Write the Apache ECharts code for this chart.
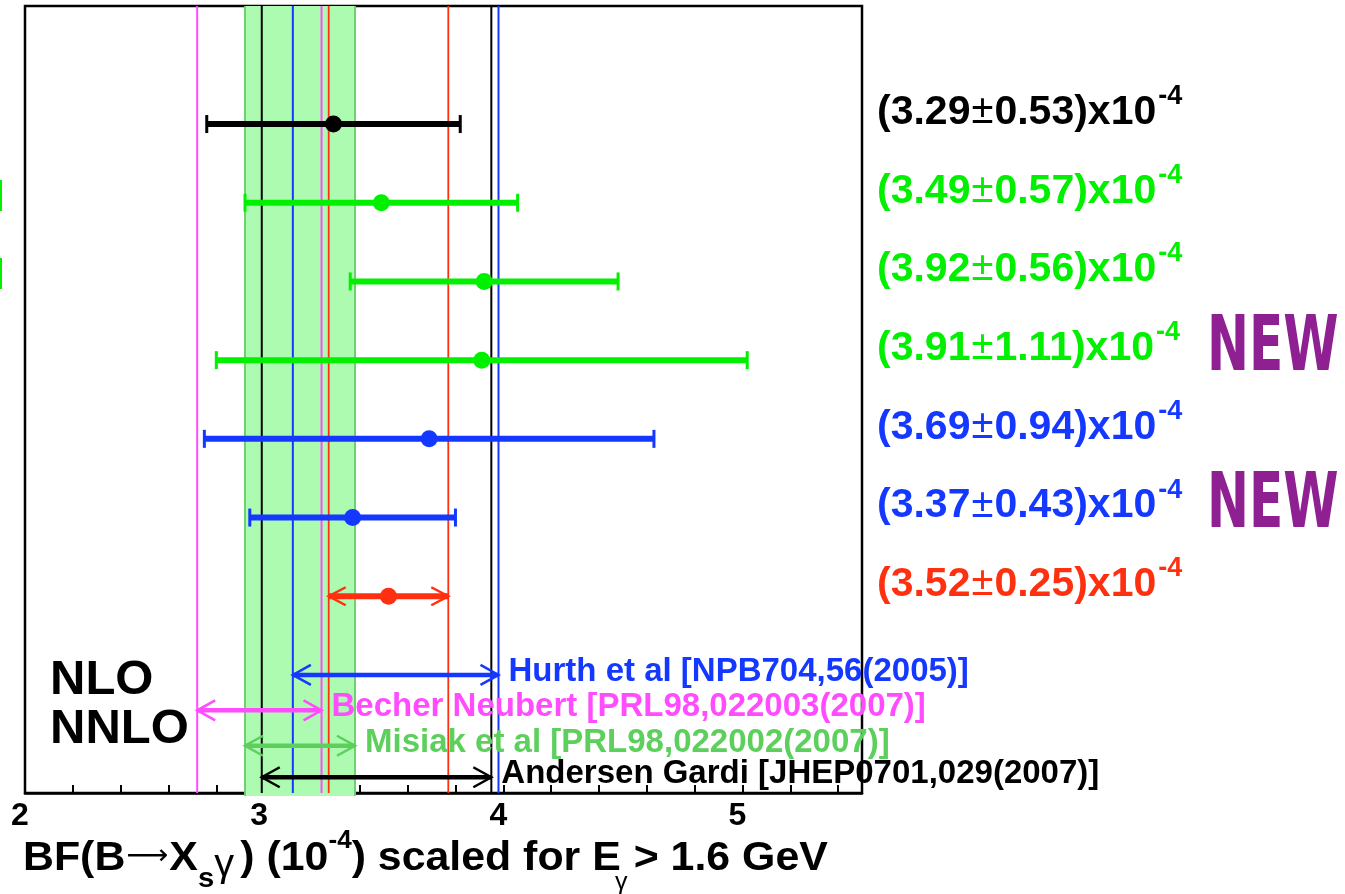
<!DOCTYPE html>
<html>
<head>
<meta charset="utf-8">
<script src="https://cdn.jsdelivr.net/npm/echarts@6/dist/echarts.min.js"></script>
<style>
  html, body { margin: 0; padding: 0; background: #ffffff; }
  #chart { width: 1345px; height: 894px; }
</style>
</head>
<body>
<div id="chart"></div>
<script>
// Measured branching fractions, in units of 1e-4, listed top to bottom.
// The last entry is the average.
const measValues = [3.29, 3.49, 3.92, 3.91, 3.69, 3.37, 3.52];
const measErrors = [0.53, 0.57, 0.56, 1.11, 0.94, 0.43, 0.25];
const measIsNew  = [false, false, false, true, false, true, false];

// Theory predictions (central value with lower / upper uncertainty)
const theoryNames = [
  'Hurth et al [NPB704,56(2005)]',
  'Becher Neubert [PRL98,022003(2007)]',
  'Misiak et al [PRL98,022002(2007)]',
  'Andersen Gardi [JHEP0701,029(2007)]'
];
const theoryCentral = [3.61, 2.98, 3.15, 3.47];
const theoryErrDown = [0.49, 0.26, 0.23, 0.48];
const theoryErrUp   = [0.37, 0.26, 0.23, 0.48];

// Axis tick labels
const xTickLabels = [2, 3, 4, 5];

// ---- styling ----
const FONT = '"Liberation Sans", Arial, Helvetica, sans-serif';
const measColors   = ['#000000', '#00f000', '#00f000', '#00f000', '#1438ff', '#1438ff', '#ff3010'];
const theoryColors = ['#1438ff', '#ff4cff', '#5ccf5c', '#000000'];
const bandFill = '#adfbb0';
const bandEdge = '#6fd06f';
const newColor = '#8f2092';
const AVG = measValues.length - 1;      // index of the average row
const BAND = 2;                          // theory drawn as a shaded band

// vertical slots on the hidden y axis (0 at the top, 10 at the bottom)
const measSlot   = measValues.map((_, i) => 1.5 + i);
const theorySlot = [8.5, 8.95, 9.4, 9.8];
const Y_MIN = 0, Y_MAX = 10;

const measData = measValues.map((v, i) =>
  [v, +(v - measErrors[i]).toFixed(3), +(v + measErrors[i]).toFixed(3), measSlot[i], i]);
const theoryData = theoryCentral.map((v, i) =>
  [v, +(v - theoryErrDown[i]).toFixed(3), +(v + theoryErrUp[i]).toFixed(3), theorySlot[i], i]);

function chevron(tipX, y, dir, len, half, color, w) {
  return {
    type: 'polyline',
    shape: { points: [[tipX + dir * len, y - half], [tipX, y], [tipX + dir * len, y + half]] },
    style: { stroke: color, lineWidth: w, fill: null }
  };
}

// Shaded band for the theory range drawn as an area
function renderBand(params, api) {
  const a0 = api.coord([api.value(0), Y_MIN]), a1 = api.coord([api.value(0), Y_MAX]);
  const b0 = api.coord([api.value(1), Y_MIN]);
  return {
    type: 'group',
    children: [
      { type: 'rect', shape: { x: a0[0], y: a0[1], width: b0[0] - a0[0], height: a1[1] - a0[1] + 3 }, style: { fill: bandFill } },
      { type: 'line', shape: { x1: a0[0], y1: a0[1], x2: a0[0], y2: a1[1] + 3 }, style: { stroke: bandEdge, lineWidth: 2 } },
      { type: 'line', shape: { x1: b0[0], y1: b0[1], x2: b0[0], y2: a1[1] + 3 }, style: { stroke: bandEdge, lineWidth: 2 } }
    ]
  };
}

// Vertical guide lines spanning the whole plot
function renderGuides(params, api) {
  const kind = api.value(2);           // 0 = theory, 1 = average
  const idx = api.value(3);
  const a0 = api.coord([api.value(0), Y_MIN]), a1 = api.coord([api.value(0), Y_MAX]);
  const b0 = api.coord([api.value(1), Y_MIN]), b1 = api.coord([api.value(1), Y_MAX]);
  const color = kind === 1 ? measColors[AVG] : theoryColors[idx];
  const w = kind === 1 ? 1.8 : 2;
  return {
    type: 'group',
    children: [
      { type: 'line', shape: { x1: a0[0], y1: a0[1], x2: a1[0], y2: a1[1] }, style: { stroke: color, lineWidth: w } },
      { type: 'line', shape: { x1: b0[0], y1: b0[1], x2: b1[0], y2: b1[1] }, style: { stroke: color, lineWidth: w } }
    ]
  };
}

// Measurement error bars with central markers
function renderMeas(params, api) {
  const i = api.value(4);
  const y = api.value(3);
  const c = measColors[i];
  const pm = api.coord([api.value(0), y]);
  const pl = api.coord([api.value(1), y]);
  const ph = api.coord([api.value(2), y]);
  const children = [
    { type: 'line', shape: { x1: pl[0], y1: pl[1], x2: ph[0], y2: ph[1] }, style: { stroke: c, lineWidth: 6 } }
  ];
  if (i === AVG) {
    children.push(chevron(pl[0], pl[1], 1, 17, 9, c, 2.5));
    children.push(chevron(ph[0], ph[1], -1, 17, 9, c, 2.5));
  } else {
    children.push({ type: 'line', shape: { x1: pl[0], y1: pl[1] - 9, x2: pl[0], y2: pl[1] + 9 }, style: { stroke: c, lineWidth: 3 } });
    children.push({ type: 'line', shape: { x1: ph[0], y1: ph[1] - 9, x2: ph[0], y2: ph[1] + 9 }, style: { stroke: c, lineWidth: 3 } });
  }
  children.push({ type: 'circle', shape: { cx: pm[0], cy: pm[1], r: 8.5 }, style: { fill: c } });
  return { type: 'group', children };
}

// Value labels to the right of the frame
function renderMeasLabels(params, api) {
  const i = api.value(4);
  const y = api.value(3);
  const c = measColors[i];
  const right = api.coord([5.5, y]);
  const txt = '{m|(' + measValues[i].toFixed(2) + '}{pm|\u00b1}{m|' + measErrors[i].toFixed(2) + ')x10}{p|-4}';
  const children = [{
    type: 'text', x: right[0] + 15, y: right[1] - 42,
    style: {
      text: txt, align: 'left', verticalAlign: 'top',
      rich: {
        m:  { fontSize: 41, fontWeight: 'bold', fontFamily: FONT, fill: c, color: c, lineHeight: 41, padding: [10, 0, 0, 0], verticalAlign: 'top' },
        pm: { fontSize: 40, fontWeight: 'normal', fontFamily: FONT, fill: c, color: c, lineHeight: 41, padding: [10, 1, 0, 1], verticalAlign: 'top' },
        p:  { fontSize: 27, fontWeight: 'bold', fontFamily: FONT, fill: c, color: c, lineHeight: 27, padding: [1, 0, 0, 2], verticalAlign: 'top' }
      }
    }
  }];
  if (measIsNew[i]) {
    children.push({
      type: 'text', x: right[0] + 345, y: right[1] - 10, scaleX: 0.66,
      style: { text: 'NEW', align: 'left', verticalAlign: 'middle', fill: newColor,
        font: 'bold 76px "DejaVu Sans", sans-serif' }
    });
  }
  return { type: 'group', children };
}

// Theory ranges: double-headed arrows with their references
function renderTheory(params, api) {
  const i = api.value(4);
  const y = api.value(3);
  const c = theoryColors[i];
  const pl = api.coord([api.value(1), y]);
  const ph = api.coord([api.value(2), y]);
  return {
    type: 'group',
    children: [
      { type: 'line', shape: { x1: pl[0], y1: pl[1], x2: ph[0], y2: ph[1] }, style: { stroke: c, lineWidth: 4.5 } },
      chevron(pl[0], pl[1], 1, 18, 10, c, 2.5),
      chevron(ph[0], ph[1], -1, 18, 10, c, 2.5),
      { type: 'text', x: ph[0] + 10, y: ph[1] - 3,
        style: { text: theoryNames[i], align: 'left', verticalAlign: 'middle', fill: c,
          font: 'bold 33px ' + FONT } }
    ]
  };
}

const bandData = [[theoryData[BAND][1], theoryData[BAND][2]]];
const guideData = theoryData.filter((d, i) => i !== BAND).map(d => [d[1], d[2], 0, d[4]])
  .concat([[measData[AVG][1], measData[AVG][2], 1, AVG]]);

const chart = echarts.init(document.getElementById('chart'), null, { renderer: 'canvas' });
chart.setOption({
  animation: false,
  backgroundColor: '#ffffff',
  grid: { left: 25, right: 483, top: 6, bottom: 101, show: true, borderColor: '#000', borderWidth: 2.5, backgroundColor: 'transparent' },
  xAxis: {
    type: 'value', min: 2, max: 5.5, interval: 0.2,
    axisLine: { show: true, onZero: false, lineStyle: { color: '#000', width: 2.5 } },
    axisTick: { show: true, inside: true, length: 8, lineStyle: { color: '#000', width: 2 } },
    splitLine: { show: false },
    axisLabel: {
      color: '#000', fontSize: 32, fontWeight: 'bold', fontFamily: FONT, margin: 7,
      padding: [0, 10, 0, 0], showMaxLabel: false,
      formatter: v => {
        const r = Math.round(v);
        return (Math.abs(v - r) < 1e-6 && xTickLabels.indexOf(r) >= 0) ? String(r) : '';
      }
    }
  },
  yAxis: { type: 'value', min: Y_MIN, max: Y_MAX, inverse: true, show: false },
  series: [
    { type: 'custom', name: 'band', renderItem: renderBand, data: bandData, z: 1, silent: true, clip: false },
    { type: 'custom', name: 'guides', renderItem: renderGuides, data: guideData, z: 2, silent: true },
    { type: 'custom', name: 'measurements', renderItem: renderMeas, data: measData, z: 3, silent: true },
    { type: 'custom', name: 'theory', renderItem: renderTheory, data: theoryData, z: 4, silent: true, clip: false },
    { type: 'custom', name: 'values', renderItem: renderMeasLabels, data: measData, z: 5, silent: true, clip: false }
  ],
  graphic: [
    { type: 'text', left: 50, top: 656, style: { text: 'NLO', font: 'bold 49px ' + FONT, fill: '#000' } },
    { type: 'text', left: 50, top: 705, style: { text: 'NNLO', font: 'bold 49px ' + FONT, fill: '#000' } },
    { type: 'rect', left: 0, top: 180, shape: { width: 2, height: 31 }, style: { fill: '#00f000' } },
    { type: 'rect', left: 0, top: 258, shape: { width: 2, height: 31 }, style: { fill: '#00f000' } },
    {
      type: 'text', x: 23, y: 828, scaleX: 1.045,
      style: {
        x: 0, y: 0, align: 'left', verticalAlign: 'top',
        text: '{m|BF(B}{a|\u27f6}{m|X}{s|s}{g|\u03b3}{m|) (10}{p|-4}{m|) scaled for E}{e|\u03b3}{m| > 1.6 GeV}',
        rich: {
          m: { fontSize: 41, fontWeight: 'bold', fontFamily: FONT, fill: '#000', lineHeight: 41, padding: [10, 0, 0, 0], verticalAlign: 'top' },
          a: { fontSize: 28, fontWeight: 'normal', fontFamily: '"DejaVu Sans", sans-serif', fill: '#000', lineHeight: 28, padding: [15, 1, 0, 1], verticalAlign: 'top' },
          s: { fontSize: 28, fontWeight: 'bold', fontFamily: FONT, fill: '#000', lineHeight: 28, padding: [37, 0, 0, 0], verticalAlign: 'top' },
          g: { fontSize: 38, fontWeight: 'normal', fontFamily: FONT, fill: '#000', lineHeight: 38, padding: [19, 6, 0, 0], verticalAlign: 'top' },
          p: { fontSize: 25, fontWeight: 'bold', fontFamily: FONT, fill: '#000', lineHeight: 25, padding: [1, 0, 0, 0], verticalAlign: 'top' },
          e: { fontSize: 24, fontWeight: 'normal', fontFamily: FONT, fill: '#000', lineHeight: 24, padding: [42, 0, 0, 0], verticalAlign: 'top', width: 1, align: 'right' }
        }
      }
    }
  ]
});
</script>
</body>
</html>
